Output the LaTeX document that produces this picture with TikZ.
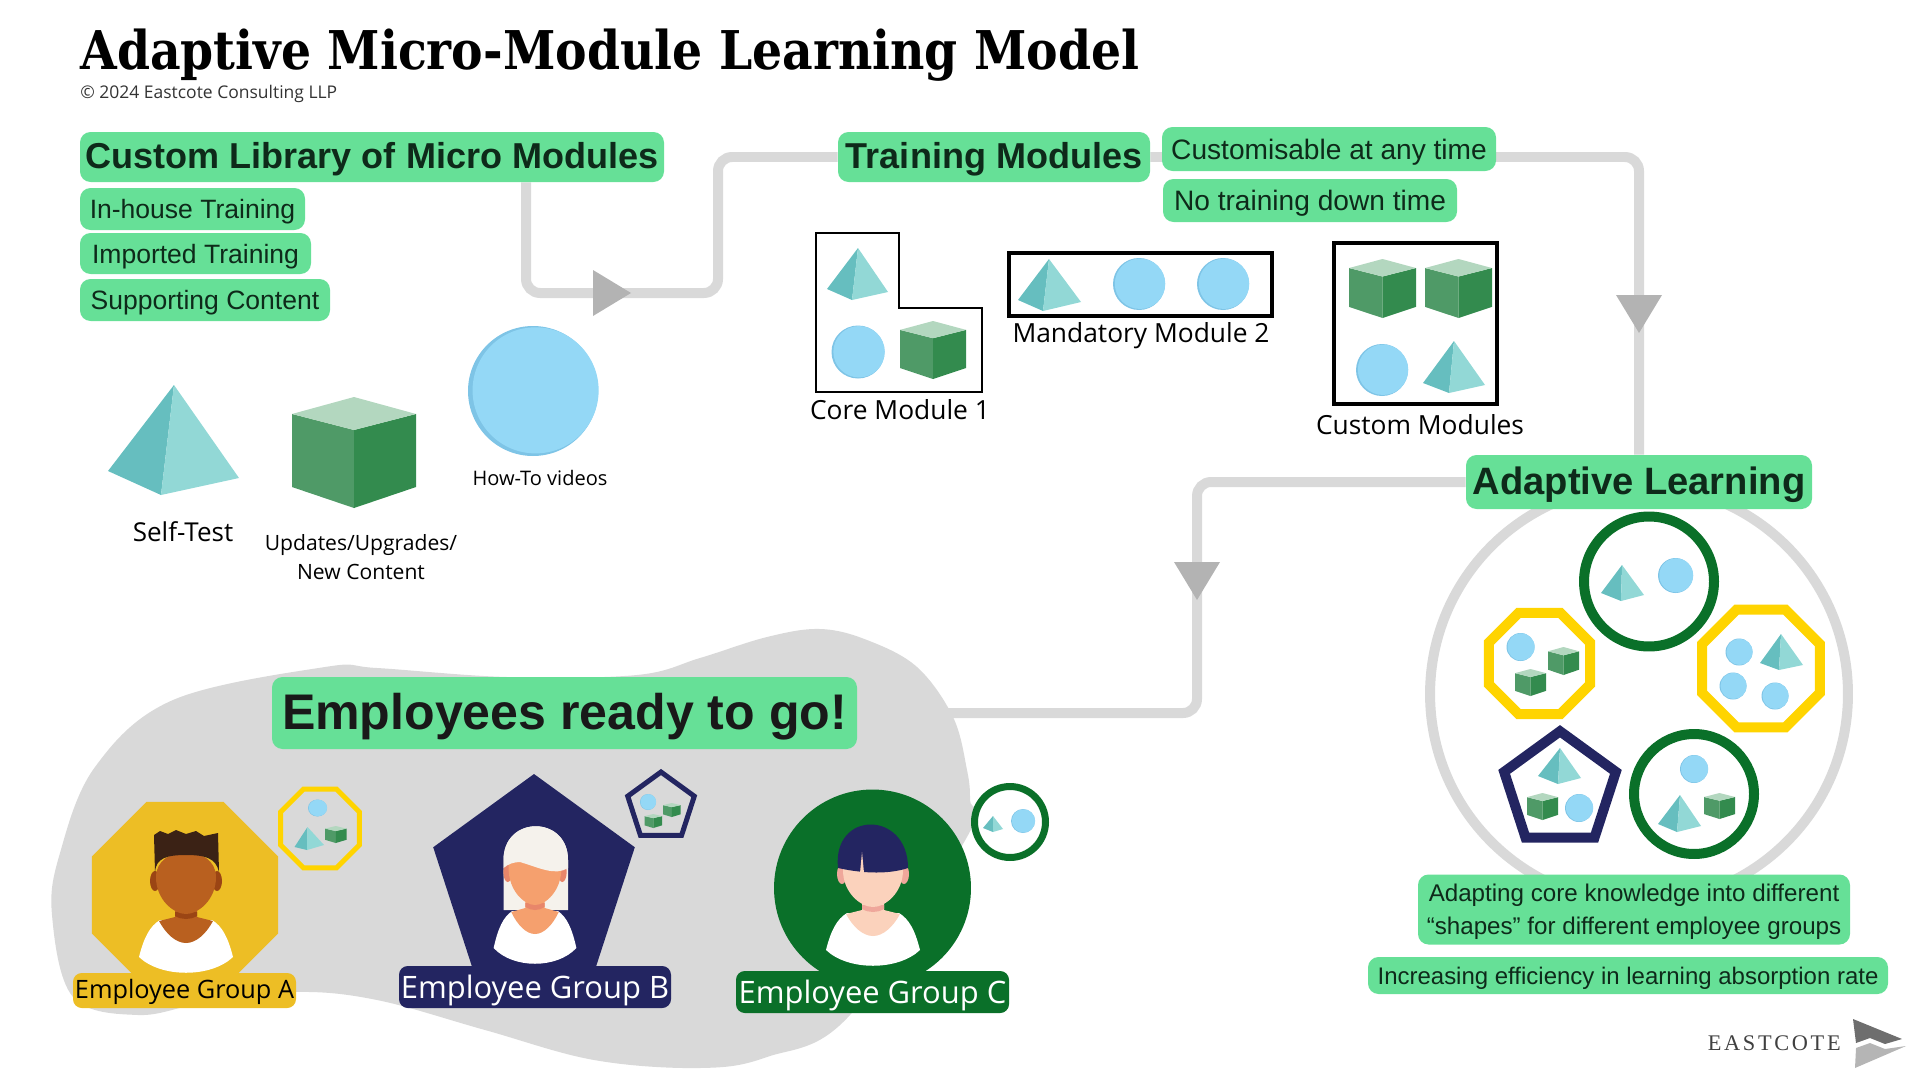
\documentclass[tikz,border=0pt]{standalone}
\usepackage{fontspec}
\usetikzlibrary{shapes.geometric,backgrounds}
\setmainfont{Liberation Sans}
\newfontfamily\titlefont[FakeStretch=0.886]{DejaVu Serif}
\newfontfamily\labelfont{Open Sans}
\newfontfamily\brandfont[LetterSpace=12]{Liberation Serif}

\definecolor{pillgreen}{HTML}{66E097}
\definecolor{pilltext}{HTML}{0E2A1A}
\definecolor{linkgray}{HTML}{D9D9D9}
\definecolor{headgray}{HTML}{B3B3B3}
\definecolor{pyrdark}{HTML}{66BEBF}
\definecolor{pyrlight}{HTML}{92D8D6}
\definecolor{cubetop}{HTML}{B3D7BF}
\definecolor{cubeleft}{HTML}{4F9A67}
\definecolor{cuberight}{HTML}{338B4E}
\definecolor{balllight}{HTML}{94D8F6}
\definecolor{ballshade}{HTML}{7EC4E6}
\definecolor{groupyellow}{HTML}{EDBE25}
\definecolor{ringyellow}{HTML}{FFD400}
\definecolor{groupnavy}{HTML}{232561}
\definecolor{groupgreen}{HTML}{0A7029}
\definecolor{skinA}{HTML}{B9601F}
\definecolor{shadeA}{HTML}{9B4514}
\definecolor{hairA}{HTML}{3B2215}
\definecolor{skinB}{HTML}{F5A06E}
\definecolor{shadeB}{HTML}{E8866A}
\definecolor{hairB}{HTML}{F5F2EC}
\definecolor{skinC}{HTML}{FBD2BC}
\definecolor{shadeC}{HTML}{EFA79B}
\definecolor{logodark}{HTML}{6E6E6E}
\definecolor{logolight}{HTML}{B5B5B5}

\tikzset{
  pill/.style={fill=pillgreen,text=pilltext,rounded corners=6pt,inner sep=0pt,align=center,text depth=0pt},
  pillsize/.style 2 args={minimum width=#1*0.02cm,minimum height=#2*0.02cm},
  headfont/.style={text depth=1.7pt,font=\fontsize{20.5}{24}\selectfont\bfseries},
  bodyfont/.style={font=\fontsize{15.1}{18}\selectfont},
  sidefont/.style={font=\fontsize{16}{18}\selectfont},
  modlabel/.style={inner sep=0pt,text=black,align=center,font=\labelfont\fontsize{15}{18}\selectfont},
  link/.style={draw=linkgray,line width=0.2cm,rounded corners=8pt},
  grouppill/.style={rounded corners=5pt,inner sep=0pt,text depth=0pt,font=\labelfont\fontsize{17.6}{20}\selectfont},
  ring/.style={draw=#1,line width=0.2cm,inner sep=0pt},
  pics/ball/.style={code={
    \fill[ballshade] (0,0) circle (1);
    \fill[balllight] (0.04,-0.01) circle (0.97);
  }},
  pics/block/.style={code={
    \fill[cubeleft] (0,0.153) -- (0.5,0.297) -- (0.5,1) -- (0,0.811) -- cycle;
    \fill[cuberight] (1,0.153) -- (0.5,0.297) -- (0.5,1) -- (1,0.811) -- cycle;
    \fill[cubetop] (0.5,0) -- (0,0.153) -- (0.5,0.297) -- (1,0.153) -- cycle;
  }},
  pics/flowhead/.style={code={
    \fill[headgray] (0,0) -- (-38,-23) -- (-38,23) -- cycle;
  }},
}

% apex, left, front, right
\newcommand{\pyramid}[4]{
  \fill[pyrdark] #1 -- #2 -- #3 -- cycle;
  \fill[pyrlight] #1 -- #3 -- #4 -- cycle;
}
% chin x, chin y, width factor, skin, shade
\newcommand{\persona}[5]{
  \begin{scope}[shift={(#1,#2)},xscale=#3]
    \fill[white] (-47,45) .. controls (-42,25) and (-36,14) .. (-26,8) -- (26,8) .. controls (36,14) and (42,25) .. (47,45) .. controls (25,66) and (-25,66) .. (-47,45) -- cycle;
    \fill[#4] (-11,-4) -- (11,-4) -- (11,5) -- (27,9) .. controls (20,22) and (10,31) .. (0,31) .. controls (-10,31) and (-20,22) .. (-27,9) -- (-11,5) -- cycle;
    \fill[#5] (-11,0) -- (11,0) -- (11,4) .. controls (4,8) and (-4,8) .. (-11,4) -- cycle;
    \fill[#5] (-31,-31) ellipse (5 and 10);
    \fill[#5] (31,-31) ellipse (5 and 10);
    \fill[#4] (-30,-35) .. controls (-30,-12) and (-12,2) .. (0,2) .. controls (12,2) and (30,-12) .. (30,-35) .. controls (30,-68) and (-30,-68) .. (-30,-35) -- cycle;
  \end{scope}
}

\begin{document}
\begin{tikzpicture}[x=0.02cm,y=-0.02cm]
  \useasboundingbox (0,0) rectangle (1919,1078);

  % title
  \node[anchor=base west,inner sep=0pt,font=\titlefont\bfseries\fontsize{30.4}{34}\selectfont] (title) at (80,70) {Adaptive Micro-Module Learning Model};
  \node[anchor=west,inner sep=0pt,text=black!80,font=\labelfont\fontsize{9.95}{12}\selectfont] (copyright) at (80,94) {© 2024 Eastcote Consulting LLP};

  % library
  \node[pill,pillsize={584}{50},headfont] (library) at (372,157) {Custom Library of Micro Modules};
  \node[pill,pillsize={225}{42},bodyfont] (inhouse) at (192.5,209) {In-house Training};
  \node[pill,pillsize={231}{41},bodyfont] (imported) at (195.5,253.5) {Imported Training};
  \node[pill,pillsize={250}{42},bodyfont] (supporting) at (205,300) {Supporting Content};

  \pyramid{(174,385)}{(108,471)}{(161,495)}{(239,478)}
  \pic[xscale=124,yscale=111] at (292,397) {block};
  \pic[scale=65] at (533,391) {ball};
  \node[modlabel,font=\labelfont\fontsize{14.8}{18}\selectfont] (selftest) at (183,532) {Self-Test};
  \node[modlabel,font=\labelfont\fontsize{12}{16.5}\selectfont] (updates) at (361,557) {Updates/Upgrades/\\New Content};
  \node[modlabel,font=\labelfont\fontsize{11.4}{14}\selectfont] (howto) at (540,478) {How-To videos};

  % training modules
  \node[pill,pillsize={312}{50},headfont] (training) at (994,157) {Training Modules};
  \node[pill,pillsize={334}{44},sidefont] (custom) at (1329,149) {Customisable at any time};
  \node[pill,pillsize={294}{43},sidefont] (downtime) at (1310,200.5) {No training down time};

  % core module
  \draw[black,line width=0.05cm] (816,233) -- (899,233) -- (899,308) -- (982,308) -- (982,392) -- (816,392) -- cycle;
  \pyramid{(858,248)}{(827,289)}{(852,300)}{(888,292)}
  \pic[scale=26.5] at (858,352) {ball};
  \pic[xscale=66,yscale=58] at (900,321) {block};
  \node[modlabel] (core) at (900,410) {Core Module 1};

  % mandatory module
  \draw[black,line width=0.08cm] (1009,253) rectangle (1272,316);
  \pyramid{(1049,259)}{(1018,300)}{(1043,311)}{(1081,302)}
  \pic[scale=26] at (1139,284) {ball};
  \pic[scale=26] at (1223,284) {ball};
  \node[modlabel] (mandatory) at (1141,336) {Mandatory Module 2};

  % custom modules
  \draw[black,line width=0.08cm] (1334,243) rectangle (1497,404);
  \pic[xscale=67,yscale=59] at (1349,259) {block};
  \pic[xscale=67,yscale=59] at (1425,259) {block};
  \pic[scale=26] at (1382,370) {ball};
  \pyramid{(1454,341)}{(1423,383)}{(1449,393)}{(1485,385)}
  \node[modlabel] (custommods) at (1420,425) {Custom Modules};

  % adaptive learning
  \node[pill,pillsize={346}{54},text depth=1pt,font=\fontsize{21.7}{24}\selectfont\bfseries] (adaptive) at (1639,482) {Adaptive Learning};
  \node[pill,pillsize={432}{70},font=\fontsize{13.75}{18.8}\selectfont] (adapting) at (1634,909.5) {Adapting core knowledge into different\\“shapes” for different employee groups};
  \node[pill,pillsize={520}{37},font=\fontsize{13.65}{16}\selectfont] (increasing) at (1628,975.5) {Increasing efficiency in learning absorption rate};

  \node[ring=groupgreen,circle,minimum size=2.6cm] (ringtop) at (1649,581.5) {};
  \pyramid{(1622,565)}{(1601,593)}{(1621,601)}{(1644,595)}
  \pic[scale=17.5] at (1675.5,575.5) {ball};

  \node[ring=ringyellow,regular polygon,regular polygon sides=8,minimum size=2.19cm] (octleft) at (1539.5,663.5) {};
  \pic[scale=14] at (1520.5,647) {ball};
  \pic[xscale=31,yscale=28] at (1548,647) {block};
  \pic[xscale=31,yscale=27] at (1515,669) {block};

  \node[ring=ringyellow,regular polygon,regular polygon sides=8,minimum size=2.55cm] (octright) at (1761,668.5) {};
  \pyramid{(1781,634)}{(1760,663)}{(1779,670)}{(1803,665)}
  \pic[scale=13.5] at (1739,652) {ball};
  \pic[scale=13.5] at (1733,686) {ball};
  \pic[scale=13.5] at (1775,696) {ball};

  \node[ring=groupnavy,regular polygon,regular polygon sides=5,minimum size=2.35cm] (pentring) at (1560,790) {};
  \pyramid{(1560,748)}{(1538,776)}{(1558,784)}{(1581,778)}
  \pic[xscale=31,yscale=27] at (1527,793) {block};
  \pic[scale=14] at (1579,808) {ball};

  \node[ring=groupgreen,circle,minimum size=2.4cm] (ringlow) at (1694,794) {};
  \pic[scale=14] at (1694,769) {ball};
  \pyramid{(1680,795)}{(1658,824)}{(1677,832)}{(1701,826)}
  \pic[xscale=31,yscale=26] at (1704,793) {block};

  % employees
  \node[pill,pillsize={585}{72},text depth=2.4pt,font=\fontsize{28.5}{32}\selectfont\bfseries,text=black!90] (ready) at (564.5,713) {Employees ready to go!};

  % group A
  \node[fill=groupyellow,regular polygon,regular polygon sides=8,minimum size=4.03cm,inner sep=0pt] (groupa) at (185,895) {};
  \persona{186}{912}{1}{skinA}{shadeA}
  \fill[hairA] (155,872) -- (154,835) -- (160,831) -- (168,834) -- (176,830) -- (186,834) -- (196,831) -- (204,836) -- (218,833) -- (219,872) .. controls (216,858) and (205,855) .. (186,855) .. controls (167,855) and (156,858) .. (155,872) -- cycle;
  \node[grouppill,pillsize={223}{35},text depth=1.5pt,fill=groupyellow,text=black,font=\labelfont\fontsize{14.4}{18}\selectfont] (labela) at (184.5,990.5) {Employee Group A};
  \node[draw=ringyellow,line width=0.1cm,regular polygon,regular polygon sides=8,minimum size=1.71cm,inner sep=0pt] (badgea) at (320,828.5) {};
  \pic[xscale=9.5,yscale=8.5] at (317.5,808) {ball};
  \pyramid{(307.5,827)}{(294.5,847)}{(307,850)}{(324,845)}
  \pic[xscale=21.5,yscale=17] at (325,826) {block};

  % group B
  \node[fill=groupnavy,regular polygon,regular polygon sides=5,minimum size=4.24cm,inner sep=0pt] (groupb) at (534,880) {};
  \fill[hairB] (503.5,910) -- (503.5,860) .. controls (503.5,815) and (568,815) .. (568,860) -- (568,910) -- cycle;
  \persona{535}{903}{0.88}{skinB}{shadeB}
  \fill[hairB] (503.5,868) -- (503.5,860) .. controls (503.5,815) and (568,815) .. (568,860) -- (568,868) .. controls (555,876) and (540,868) .. (520,862) .. controls (514,862) and (508,864) .. (503.5,868) -- cycle;
  \node[grouppill,pillsize={272}{42},fill=groupnavy,text=white] (labelb) at (535,987) {Employee Group B};
  \node[draw=groupnavy,line width=0.1cm,regular polygon,regular polygon sides=5,minimum size=1.4cm,inner sep=0pt] (badgeb) at (661,807) {};
  \pic[scale=8] at (648,802) {ball};
  \pic[xscale=17.5,yscale=14] at (663,803) {block};
  \pic[xscale=17.5,yscale=14] at (644.5,814) {block};

  % group C
  \node[fill=groupgreen,circle,minimum size=3.94cm,inner sep=0pt] (groupc) at (872.5,888) {};
  \persona{873}{905}{1}{skinC}{shadeC}
  \fill[groupnavy] (838,868) .. controls (832,810) and (908,810) .. (908,868) .. controls (890,874) and (865,874) .. (838,868) -- cycle;
  \fill[skinC] (860,873) -- (862,852) -- (864,873) -- cycle;
  \node[grouppill,pillsize={273}{42},fill=groupgreen,text=white] (labelc) at (872.5,992) {Employee Group C};
  \node[circle,draw=groupgreen,line width=0.14cm,minimum size=1.42cm,inner sep=0pt] (badgec) at (1010,822) {};
  \pyramid{(993,816)}{(983,828)}{(993,832)}{(1003,829)}
  \pic[scale=12] at (1023,821) {ball};

  % logo
  \node[anchor=east,inner sep=0pt,text=black!75,font=\brandfont\fontsize{12.7}{16}\selectfont] (brand) at (1841,1043) {EASTCOTE};
  \fill[logodark] (1853,1019) -- (1902,1039) -- (1885,1044) -- (1870,1038) -- (1856,1043) -- cycle;
  \fill[logolight] (1856,1048) -- (1870,1043) -- (1885,1049) -- (1906,1046) -- (1855,1068) -- cycle;

  % connectors
  \coordinate (libdrop) at (526,293);
  \coordinate (libside) at (718,293);
  \coordinate (libtop) at (718,157);
  \coordinate (trainturn) at (1639,157);
  \coordinate (adaptturn) at (1197,482);
  \coordinate (readyturn) at (1197,713);
  \coordinate (readyend) at (940,713);
  \begin{scope}[on background layer]
    \draw[link] (library.south -| libdrop) -- (libdrop) -- (libside) -- (libtop) -- (training.west);
    \draw[link] (training.east) -- (trainturn) -- (adaptive.north);
    \draw[link] (adaptive.west) -- (adaptturn) -- (readyturn) -- (readyend);
    \node[draw=linkgray,line width=0.2cm,circle,minimum size=8.36cm,inner sep=0pt] (adaptcircle) at (1639,694) {};
    \fill[linkgray] plot[smooth cycle,tension=0.6] coordinates {(325,667) (173,700) (95,767) (60,853) (52,915) (73,997) (138,1015) (203,1003) (295,992) (377,1000) (485,1030) (594,1060) (700,1068) (767,1057) (850,1015) (967,837) (970,800) (967,770) (953,717) (917,667) (867,640) (820,629) (767,637) (700,658) (637,675) (507,677) (377,668)};
  \end{scope}
  \pic at (631,293) {flowhead};
  \pic[rotate=-90] at (1639,333) {flowhead};
  \pic[rotate=-90] at (1197,600) {flowhead};
\end{tikzpicture}
\end{document}
